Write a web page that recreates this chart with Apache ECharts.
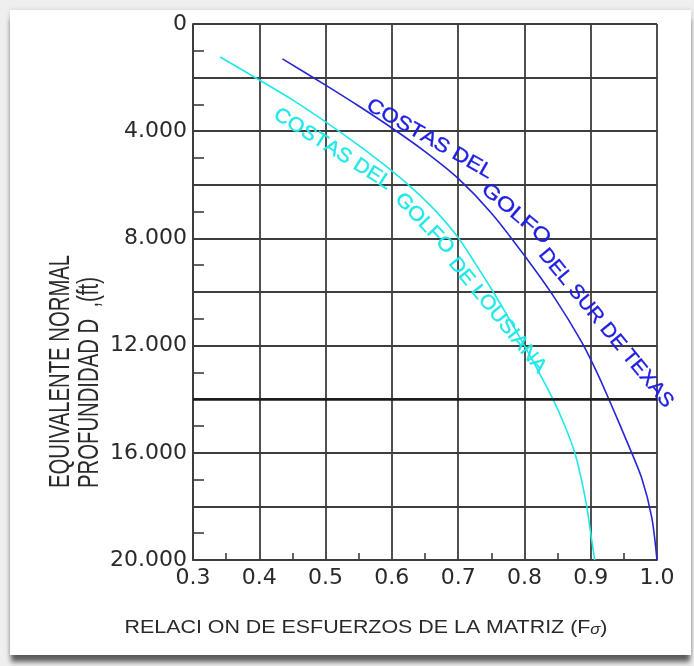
<!DOCTYPE html>
<html>
<head>
<meta charset="utf-8">
<script src="https://cdn.jsdelivr.net/npm/echarts@6.0.0/dist/echarts.min.js"></script>
<style>
  html, body { margin: 0; padding: 0; width: 694px; height: 666px; overflow: hidden; background: #efefef; }
  #card { position: absolute; left: 10px; top: 10px; width: 681px; height: 645px; background: #fff;
          box-shadow: 0 8px 5px -1px rgba(0,0,0,0.6), 0 0 5px rgba(0,0,0,0.12); }
  #chart { position: absolute; left: 0; top: 0; width: 694px; height: 666px; }
</style>
</head>
<body>
<div id="card"></div>
<div id="chart"></div>
<script>
// Stress-ratio (Fσ) vs. equivalent normal depth, two Gulf Coast trends.

// Axis ticks
const ratioTickValues = [0.3, 0.4, 0.5, 0.6, 0.7, 0.8, 0.9, 1.0];
const ratioTickLabels = ['0.3', '0.4', '0.5', '0.6', '0.7', '0.8', '0.9', '1.0'];
const depthTickValues = [0, 4000, 8000, 12000, 16000, 20000];
const depthTickLabels = ['0', '4.000', '8.000', '12.000', '16.000', '20.000'];

// Curves: [stress ratio, depth ft]
const texasCurve = [
  [0.435, 1300], [0.5, 2280], [0.55, 3060], [0.6, 3880], [0.65, 4760], [0.7, 5760],
  [0.75, 7050], [0.8, 8640], [0.845, 10200], [0.886, 11850], [0.909, 12980],
  [0.93, 14150], [0.955, 15600], [0.977, 16950], [0.992, 18400], [1.0, 20000]
];
const louisianaCurve = [
  [0.341, 1230], [0.4, 2090], [0.45, 2830], [0.5, 3650], [0.55, 4530], [0.6, 5480],
  [0.633, 6180], [0.667, 7000], [0.7, 7970], [0.727, 8980], [0.753, 10000],
  [0.777, 11000], [0.8, 12000], [0.822, 13000], [0.843, 14000], [0.861, 15000],
  [0.876, 16000], [0.886, 17000], [0.894, 18000], [0.9, 19000], [0.906, 20000]
];

// Reference depth drawn as a heavy line
const referenceDepth = [14000];

// Curve captions, split in word groups
const texasCaption = ['COSTAS DEL', 'GOLFO', 'DEL SUR DE TEXAS'];
const louisianaCaption = ['COSTAS DEL', 'GOLFO', 'DE LOUSIANA'];

// ---- styling / layout ----
const BLUE = '#2626d6';
const BLUE_TEXT = '#1d1de6';
const CYAN = '#1fe8e8';
const GRID_COLOR = '#3d3d3d';
const TEXT_COLOR = '#2a2a2a';
const CURVE_FONT = '20px "Liberation Sans", Arial, sans-serif';

// start/end (first/last character centre) of each caption group, in data units
const texasCaptionPath = [
  [[0.5746, 3134], [0.742, 5485]],
  [[0.7495, 6305], [0.825, 7872]],
  [[0.834, 8693], [1.012, 14029]]
];
const louisianaCaptionPath = [
  [[0.4343, 3470], [0.5896, 5895]],
  [[0.6183, 6641], [0.6801, 8246]],
  [[0.6983, 9029], [0.8204, 12723]]
];

function pickLabel(values, labels, v) {
  const i = values.findIndex(t => Math.abs(t - v) < 1e-6);
  return i >= 0 ? labels[i] : '';
}

const chart = echarts.init(document.getElementById('chart'), null, { renderer: 'canvas' });

const option = {
  animation: false,
  backgroundColor: 'transparent',
  grid: { left: 193, top: 24, right: 37, bottom: 106, containLabel: false, outerBoundsMode: 'none' },
  xAxis: {
    type: 'value',
    position: 'bottom',
    min: 0.3, max: 1.0, interval: 0.1,
    axisLine: { show: true, onZero: false, lineStyle: { color: GRID_COLOR, width: 1.8 } },
    axisTick: { show: false, inside: true },
    minorTick: { show: true, splitNumber: 2, length: 7, lineStyle: { color: GRID_COLOR, width: 1.6 } },
    splitLine: { show: true, showMinLine: true, showMaxLine: true, lineStyle: { color: GRID_COLOR, width: 1.8 } },
    axisLabel: {
      show: true, showMinLabel: true, showMaxLabel: true, margin: 7,
      fontFamily: '"DejaVu Sans", sans-serif', fontSize: 22, color: TEXT_COLOR,
      formatter: v => pickLabel(ratioTickValues, ratioTickLabels, v)
    }
  },
  yAxis: {
    type: 'value',
    inverse: true,
    min: 0, max: 20000, interval: 2000,
    axisLine: { show: true, onZero: false, lineStyle: { color: GRID_COLOR, width: 1.8 } },
    axisTick: { show: false, inside: true },
    minorTick: { show: true, splitNumber: 2, length: 11, lineStyle: { color: GRID_COLOR, width: 1.6 } },
    splitLine: { show: true, showMinLine: true, showMaxLine: true, lineStyle: { color: GRID_COLOR, width: 1.8 } },
    axisLabel: {
      show: true, showMinLabel: true, showMaxLabel: true, margin: 6,
      fontFamily: '"DejaVu Sans", sans-serif', fontSize: 22, color: TEXT_COLOR,
      formatter: v => pickLabel(depthTickValues, depthTickLabels, v)
    }
  },
  series: [
    {
      name: 'Costas del Golfo del Sur de Texas',
      type: 'line',
      data: texasCurve,
      showSymbol: false,
      smooth: 0.3,
      silent: true,
      lineStyle: { color: BLUE, width: 1.6 },
      z: 3,
      markLine: {
        silent: true,
        symbol: ['none', 'none'],
        label: { show: false },
        lineStyle: { color: '#1a1a1a', width: 2.6, type: 'solid' },
        data: referenceDepth.map(d => ({ yAxis: d }))
      }
    },
    {
      name: 'Costas del Golfo de Lousiana',
      type: 'line',
      data: louisianaCurve,
      showSymbol: false,
      smooth: 0.3,
      silent: true,
      lineStyle: { color: CYAN, width: 1.6 },
      z: 3
    }
  ]
};

chart.setOption(option);

// ---- captions and titles ----
const measureCtx = document.createElement('canvas').getContext('2d');
function textWidth(s, font) { measureCtx.font = font; return measureCtx.measureText(s).width; }

// Lay out a caption group character by character between two data points.
function captionElements(groups, path, color) {
  const els = [];
  groups.forEach((text, k) => {
    const p0 = chart.convertToPixel({ gridIndex: 0 }, path[k][0]);
    const p1 = chart.convertToPixel({ gridIndex: 0 }, path[k][1]);
    const chars = Array.from(text);
    const widths = chars.map(c => textWidth(c, CURVE_FONT));
    let acc = 0;
    const mids = widths.map(w => { const m = acc + w / 2; acc += w; return m; });
    const span = mids[mids.length - 1] - mids[0];
    const dx = p1[0] - p0[0], dy = p1[1] - p0[1];
    const stretch = Math.hypot(dx, dy) / span;
    const rot = -Math.atan2(dy, dx);
    chars.forEach((c, i) => {
      if (c === ' ') return;
      const t = (mids[i] - mids[0]) / span;
      els.push({
        type: 'text', silent: true, z: 10,
        x: p0[0] + dx * t, y: p0[1] + dy * t,
        rotation: rot, scaleX: stretch,
        style: { text: c, font: CURVE_FONT, fill: color, stroke: color, lineWidth: 0.35,
                 align: 'center', verticalAlign: 'middle' }
      });
    });
  });
  return els;
}

const X_TITLE_FONT = '18px "Liberation Sans", Arial, sans-serif';
const xTitleMain = 'RELACI ON DE ESFUERZOS DE LA MATRIZ (F';
const xTitleWidth = textWidth(xTitleMain + ')', X_TITLE_FONT) + textWidth('σ', 'italic 14px "Liberation Sans"');

const Y_TITLE_FONT = '29px "Liberation Sans", Arial, sans-serif';

const titleElements = [
  {
    type: 'text', silent: true,
    x: 366, y: 628, scaleX: 483 / xTitleWidth, scaleY: 1.05,
    style: {
      text: xTitleMain + '{s|σ})',
      font: X_TITLE_FONT, fill: TEXT_COLOR, align: 'center', verticalAlign: 'middle',
      rich: { s: { fontFamily: '"Liberation Sans", Arial, sans-serif', fontSize: 14, fontStyle: 'italic', fill: TEXT_COLOR, verticalAlign: 'bottom' } }
    }
  },
  {
    type: 'text', silent: true,
    x: 61, y: 488, rotation: Math.PI / 2, scaleX: 0.7,
    style: { text: 'EQUIVALENTE NORMAL', font: Y_TITLE_FONT, fill: TEXT_COLOR, align: 'left', verticalAlign: 'middle' }
  },
  {
    type: 'text', silent: true,
    x: 90, y: 488, rotation: Math.PI / 2, scaleX: 0.7,
    style: { text: 'PROFUNDIDAD D  ,(ft)', font: Y_TITLE_FONT, fill: TEXT_COLOR, align: 'left', verticalAlign: 'middle' }
  }
];

chart.setOption({
  graphic: {
    elements: titleElements
      .concat(captionElements(texasCaption, texasCaptionPath, BLUE_TEXT))
      .concat(captionElements(louisianaCaption, louisianaCaptionPath, CYAN))
  }
});
</script>
</body>
</html>
